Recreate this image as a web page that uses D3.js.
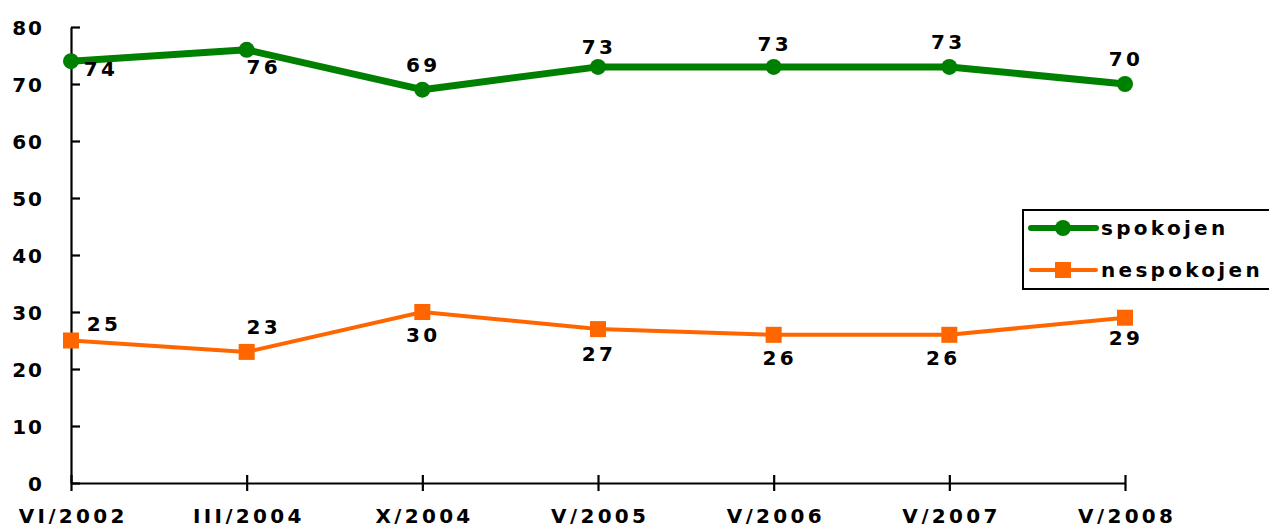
<!DOCTYPE html>
<html><head><meta charset="utf-8">
<script src="https://cdn.jsdelivr.net/npm/d3@7"></script>
<style>body{margin:0;background:#fff}svg text{font-family:"DejaVu Sans",Verdana,sans-serif;font-weight:bold;fill:#000}</style>
</head><body>
<svg id="c" width="1269" height="524"></svg>
<script>
const categories = ["VI/2002","III/2004","X/2004","V/2005","V/2006","V/2007","V/2008"];
const spokojen = [74,76,69,73,73,73,70];
const nespokojen = [25,23,30,27,26,26,29];
const yTicks = [0,10,20,30,40,50,60,70,80];
const seriesNames = ["spokojen","nespokojen"];
// label placement (dx, dy from point)
const spokLabelOff = [[30,15],[17,24],[1,-18],[1,-13],[1,-16],[-1,-18],[1,-18]];
const nespLabelOff = [[33,-10],[17,-18],[1,30],[1,32],[6,30],[-6,30],[1,27]];

const svg = d3.select("#c");
const x = d3.scalePoint().domain(categories).range([71,1125]);
const y = d3.scaleLinear().domain([0,80]).range([483,27]);
const LS = 3.3;

const ya = svg.append("g").attr("transform","translate(71,0)")
  .call(d3.axisLeft(y).tickValues(yTicks).tickSizeInner(8).tickSizeOuter(0).tickPadding(19));
ya.selectAll(".tick line").attr("x2",9);
const xa = svg.append("g").attr("transform","translate(0,483)")
  .call(d3.axisBottom(x).tickSizeInner(8).tickSizeOuter(0).tickPadding(18));
xa.selectAll(".tick line").attr("y1",-8);
svg.selectAll(".domain, .tick line").attr("stroke","#000").attr("stroke-width",2.2);
svg.selectAll(".tick text").attr("font-size",20).attr("font-family","DejaVu Sans").attr("font-weight","bold").attr("fill","#000");
ya.selectAll(".tick text").attr("dy","0.36em").attr("letter-spacing",2);
xa.selectAll(".tick text").attr("dy","0.71em").attr("letter-spacing",LS).attr("dx",LS/2);

const line = d3.line().x((d,i)=>x(categories[i])).y(d=>y(d));
const green = "#008000", orange = "#ff6600";

svg.append("path").datum(spokojen).attr("d",line).attr("fill","none").attr("stroke",green).attr("stroke-width",7).attr("stroke-linejoin","round");
svg.append("path").datum(nespokojen).attr("d",line).attr("fill","none").attr("stroke",orange).attr("stroke-width",4);

svg.selectAll(".gc").data(spokojen).join("circle").attr("cx",(d,i)=>x(categories[i])).attr("cy",d=>y(d)).attr("r",8).attr("fill",green);
svg.selectAll(".os").data(nespokojen).join("rect").attr("x",(d,i)=>x(categories[i])-8).attr("y",d=>y(d)-8).attr("width",16).attr("height",16).attr("fill",orange);

const lbl = (data, off) => svg.append("g").selectAll("text").data(data).join("text")
  .attr("x",(d,i)=>x(categories[i])+off[i][0]).attr("y",(d,i)=>y(d)+off[i][1])
  .attr("text-anchor","middle").attr("font-size",20).attr("letter-spacing",LS).text(d=>d);
lbl(spokojen, spokLabelOff);
lbl(nespokojen, nespLabelOff);

// legend
const lg = svg.append("g");
lg.append("rect").attr("x",1023).attr("y",210).attr("width",248).attr("height",79).attr("fill","#fff").attr("stroke","#000").attr("stroke-width",2);
const items = [{n:seriesNames[0],c:green,w:6,m:"c"},{n:seriesNames[1],c:orange,w:4,m:"s"}];
items.forEach((it,k)=>{
  const cy = 228 + k*42;
  lg.append("line").attr("x1",1031).attr("x2",1096).attr("y1",cy).attr("y2",cy).attr("stroke",it.c).attr("stroke-width",it.w).attr("stroke-linecap","round");
  if(it.m==="c") lg.append("circle").attr("cx",1063).attr("cy",cy).attr("r",8).attr("fill",it.c);
  else lg.append("rect").attr("x",1055).attr("y",cy-8).attr("width",16).attr("height",16).attr("fill",it.c);
  lg.append("text").attr("x",1101).attr("y",cy+7).attr("font-size",20).attr("letter-spacing",LS).text(it.n);
});
</script>
</body></html>
